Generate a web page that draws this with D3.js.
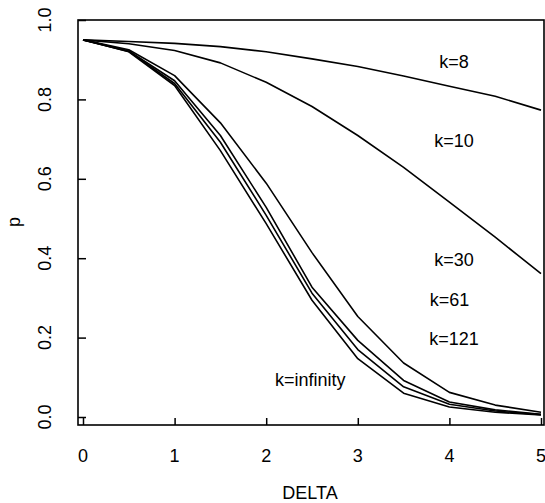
<!DOCTYPE html>
<html>
<head>
<meta charset="utf-8">
<script src="https://cdn.jsdelivr.net/npm/d3@7"></script>
<style>
  body { margin: 0; background: #fff; }
  text { font-family: "Liberation Sans", Arial, sans-serif; fill: #000; }
</style>
</head>
<body>
<div id="chart"></div>
<script>
const width = 545, height = 503;

// delta values where the power curves were evaluated
const delta = [0, 0.5, 1, 1.5, 2, 2.5, 3, 3.5, 4, 4.5, 5];

// p for each k
const pK8   = [0.95, 0.946, 0.941, 0.933, 0.920, 0.902, 0.883, 0.859, 0.833, 0.808, 0.773];
const pK10  = [0.95, 0.940, 0.923, 0.892, 0.843, 0.782, 0.709, 0.629, 0.541, 0.453, 0.361];
const pK30  = [0.95, 0.925, 0.860, 0.741, 0.589, 0.414, 0.253, 0.136, 0.062, 0.030, 0.012];
const pK61  = [0.95, 0.922, 0.847, 0.709, 0.528, 0.327, 0.193, 0.092, 0.038, 0.018, 0.007];
const pK121 = [0.95, 0.921, 0.840, 0.692, 0.508, 0.312, 0.170, 0.076, 0.032, 0.015, 0.006];
const pKinf = [0.95, 0.920, 0.835, 0.671, 0.487, 0.294, 0.147, 0.060, 0.025, 0.012, 0.005];

const series = [pK8, pK10, pK30, pK61, pK121, pKinf];

const labels = ['k=8', 'k=10', 'k=30', 'k=61', 'k=121', 'k=infinity'];
const labelAt = [[4.05, 0.895], [4.05, 0.695], [4.05, 0.395], [4.0, 0.295], [4.05, 0.196], [2.48, 0.095]];

const xTicks = [0, 1, 2, 3, 4, 5];
const yTicks = [0, 0.2, 0.4, 0.6, 0.8, 1.0];

const svg = d3.select('#chart').append('svg')
  .attr('width', width).attr('height', height);

const x = d3.scaleLinear().domain([0, 5]).range([83, 541]);
const y = d3.scaleLinear().domain([0, 1]).range([417, 20]);

const frame = { left: 78, right: 544, top: 20, bottom: 425 };

// box round the plot
svg.append('rect')
  .attr('x', frame.left).attr('y', frame.top)
  .attr('width', frame.right - frame.left).attr('height', frame.bottom - frame.top)
  .attr('fill', 'none').attr('stroke', '#000').attr('stroke-width', 1.6);

// x axis: ticks point up into the plot, labels below
const gx = svg.append('g').attr('transform', `translate(0,${frame.bottom})`)
  .call(d3.axisTop(x).tickValues(xTicks).tickSize(7).tickFormat(''));
gx.select('.domain').remove();
gx.selectAll('line').attr('stroke', '#000').attr('stroke-width', 1.5);

svg.selectAll('.xlab').data(xTicks).enter().append('text')
  .attr('class', 'xlab')
  .attr('x', d => x(d)).attr('y', 462)
  .attr('text-anchor', 'middle')
  .style('font-size', '18px')
  .text(d => d);

// y axis: ticks point right into the plot, rotated labels
const gy = svg.append('g').attr('transform', `translate(${frame.left},0)`)
  .call(d3.axisRight(y).tickValues(yTicks).tickSize(8).tickFormat(''));
gy.select('.domain').remove();
gy.selectAll('line').attr('stroke', '#000').attr('stroke-width', 1.5);

svg.selectAll('.ylab').data(yTicks).enter().append('text')
  .attr('class', 'ylab')
  .attr('transform', d => `translate(51,${y(d)}) rotate(-90)`)
  .attr('text-anchor', 'middle')
  .style('font-size', '18px')
  .text(d => d3.format('.1f')(d));

// axis titles
svg.append('text')
  .attr('x', 310).attr('y', 499)
  .attr('text-anchor', 'middle')
  .style('font-size', '18px')
  .text('DELTA');

svg.append('text')
  .attr('transform', 'translate(20,222) rotate(-90)')
  .attr('text-anchor', 'middle')
  .style('font-size', '18px')
  .text('p');

// curves
const line = d3.line()
  .x((d, i) => x(delta[i]))
  .y(d => y(d));

svg.append('g').selectAll('path').data(series).enter().append('path')
  .attr('d', line)
  .attr('fill', 'none')
  .attr('stroke', '#000')
  .attr('stroke-width', 1.6)
  .attr('stroke-linejoin', 'round');

// curve names
svg.selectAll('.klab').data(labels).enter().append('text')
  .attr('class', 'klab')
  .attr('x', (d, i) => x(labelAt[i][0]))
  .attr('y', (d, i) => y(labelAt[i][1]))
  .attr('dy', '0.35em')
  .attr('text-anchor', 'middle')
  .style('font-size', '18px')
  .text(d => d);
</script>
</body>
</html>
